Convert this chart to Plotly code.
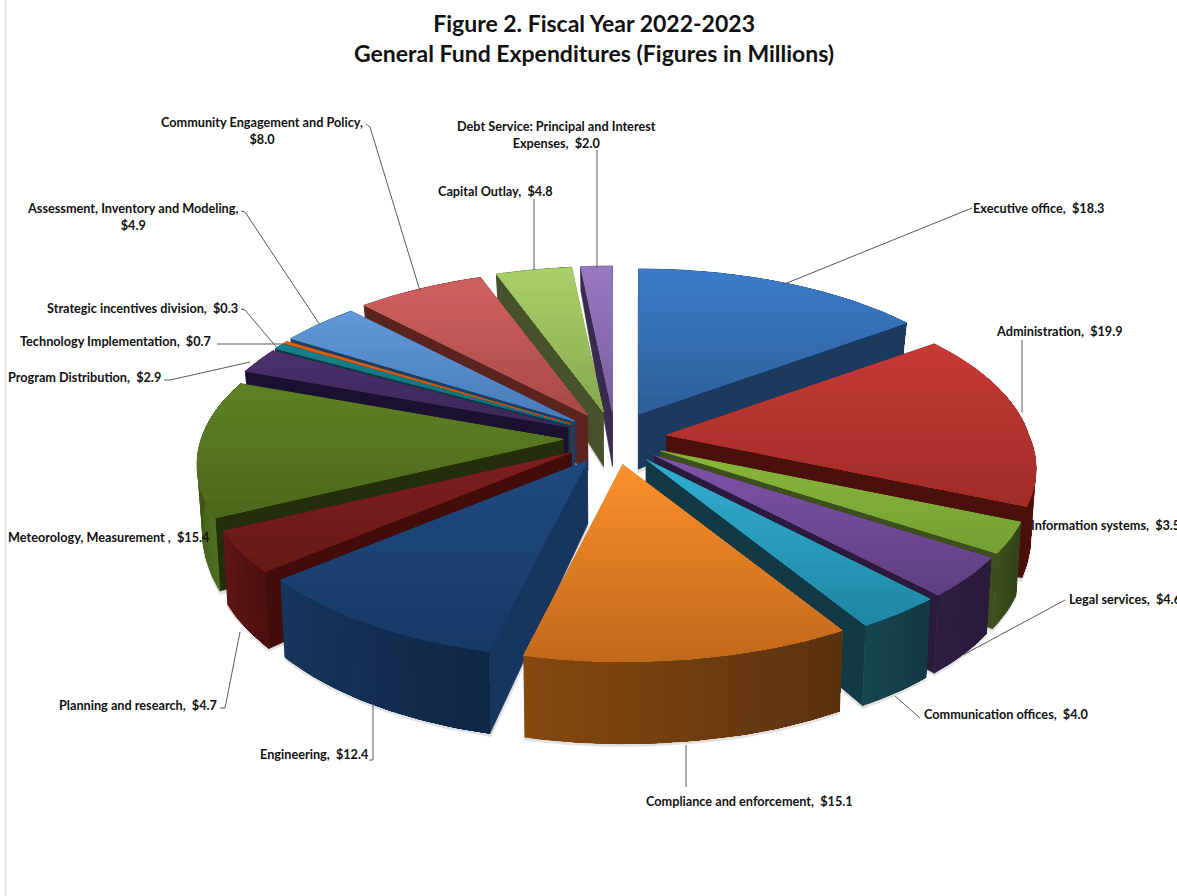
import numpy as np
import plotly.graph_objects as go

# ---- data ----
names = ["Executive office", "Administration", "Information systems", "Legal services",
         "Communication offices", "Compliance and enforcement", "Engineering",
         "Planning and research", "Meteorology, Measurement ", "Program Distribution",
         "Technology Implementation", "Strategic incentives division",
         "Assessment, Inventory and Modeling", "Community Engagement and Policy",
         "Capital Outlay", "Debt Service: Principal and Interest Expenses"]
values = [18.3, 19.9, 3.5, 4.6, 4.0, 15.1, 12.4, 4.7, 15.4, 2.9, 0.7, 0.3, 4.9, 8.0, 4.8, 2.0]

# ---- styles: top light, top dark, radial wall, outer wall left, outer wall right ----
styles = [
    ("#3c7bc8", "#2e5f99", "#1c3a5e", "#1f4068", "#1c3a5e"),
    ("#c63a36", "#a02c28", "#4a100c", "#6a1512", "#4a100c"),
    ("#8ab63e", "#74a034", "#3d4f1c", "#3d4f1c", "#334417"),
    ("#7f53a8", "#5f3f80", "#2a1a3c", "#2e1d42", "#2a1a3c"),
    ("#31adcf", "#1f87a4", "#123a46", "#174650", "#123a46"),
    ("#fa8f2a", "#c2691c", "#8a5016", "#85490f", "#5a3210"),
    ("#1f4b80", "#173a66", "#17365f", "#17365c", "#0f2746"),
    ("#7e1f1e", "#671a18", "#420c0a", "#5f1614", "#4d100e"),
    ("#5f8125", "#4d681c", "#232f0a", "#4f6e1f", "#2c3a0e"),
    ("#4c306c", "#3b2858", "#1b1030", "#1b1030", "#1b1030"),
    ("#17808f", "#146c78", "#0c3c44", "#0c3c44", "#0c3c44"),
    ("#e2600c", "#c8540a", "#7a3408", "#7a3408", "#7a3408"),
    ("#6098d8", "#4a7cb8", "#1f3f62", "#1f3f62", "#1f3f62"),
    ("#d06060", "#a84a48", "#5a2420", "#5a2420", "#5a2420"),
    ("#aad068", "#87a850", "#46532a", "#46532a", "#46532a"),
    ("#9779be", "#7a5fa0", "#3a2a50", "#3a2a50", "#3a2a50"),
]

# label placement: (x, y, xanchor), in page pixels
label_pos = [(971, 208, "left"), (994, 331, "left"), (1029, 525, "left"), (1067, 599, "left"),
             (922, 714, "left"), (644, 801, "left"), (371, 754, "right"), (219, 705, "right"),
             (6, 537, "left"), (6, 377, "left"), (18, 341, "left"), (45, 308, "left"),
             (132, 216, "center"), (262, 130, "center"), (495, 191, "center"), (556, 134, "center")]
line_break_after_name = {12, 13}
leaders = [[(782, 285), (972, 208)], [(1022, 412), (1022, 340)], None,
           [(963, 655), (1065, 600)], [(895, 696), (920, 718)], [(686, 745), (686, 787)],
           [(373, 704), (373, 760), (369, 760)], [(240, 632), (225, 708), (220, 708)], None,
           [(250, 362), (170, 380), (164, 380)], [(285, 344), (217, 344)],
           [(278, 349), (245, 310), (241, 309)], [(320, 325), (245, 212), (241, 211)],
           [(420, 291), (370, 127), (366, 124)], [(534, 270), (534, 199)], [(597, 268), (597, 150)]]

# ---- projection of the exploded disc ----
CX, CY, EX, EY = 615.0, 438.0, 52.0, 27.0


def rx(z, s):
    return 362 + 55 * z + 20 * np.maximum(z, 0) * (s > 0)


def ry(z):
    return 171 + 26 * z


def thick(y):
    return np.interp(y, [270, 325, 413, 515, 650], [25, 33, 55, 73, 82])


def lower(x, y):
    x, y = np.asarray(x, float), np.asarray(y, float)
    return x - (x - 620) * 0.012, y + thick(y)


def hex2rgb(c):
    return np.array([int(c[i:i + 2], 16) for i in (1, 3, 5)], float)


def mix(a, b, t):
    v = hex2rgb(a) * (1 - t) + hex2rgb(b) * t
    return "rgb(%d,%d,%d)" % tuple(v.round())


def clip_below(pts, y0):
    out = []
    for i in range(len(pts)):
        p, q = pts[i], pts[(i + 1) % len(pts)]
        if p[1] >= y0:
            out.append(p)
        if (p[1] >= y0) != (q[1] >= y0):
            t = (y0 - p[1]) / (q[1] - p[1])
            out.append((p[0] + t * (q[0] - p[0]), y0))
    return out


fig = go.Figure()


def poly(xs, ys, color, lw=0.6):
    xs, ys = list(xs), list(ys)
    fig.add_trace(go.Scatter(x=xs + xs[:1], y=ys + ys[:1], mode="lines", fill="toself",
                             fillcolor=color, line=dict(color=color, width=lw),
                             hoverinfo="skip", showlegend=False))


total = sum(values)
cum = np.concatenate([[0], np.cumsum(values)]) / total * 2 * np.pi
slices = []
for i in range(len(values)):
    a0, a1 = cum[i], cum[i + 1]
    mid = (a0 + a1) / 2
    ax, ay = CX + EX * np.sin(mid), CY - EY * np.cos(mid)
    th = np.linspace(a0, a1, max(4, int((a1 - a0) * 70)))
    z = -np.cos(th)
    s_th = np.sin(th)
    xs, ys = ax + s_th * rx(z, s_th), ay + z * ry(z)
    slices.append(dict(i=i, mid=mid, ax=ax, ay=ay, xs=xs, ys=ys))

order = sorted(slices, key=lambda s: -np.cos(s["mid"]))

# soft shadows under the slices
for s in slices:
    bx, by = lower(np.r_[s["ax"], s["xs"]], np.r_[s["ay"], s["ys"]])
    mx, my = bx.mean(), by.mean()
    poly(mx + (bx - mx) * 1.012, my + (by - my) * 1.012 + 3, "rgba(110,110,110,0.2)", 0)

for s in order:
    c_light, c_dark, c_rad, c_o0, c_o1 = styles[s["i"]]
    ax, ay, xs, ys = s["ax"], s["ay"], s["xs"], s["ys"]
    bxs, bys = lower(xs, ys)
    bax, bay = lower(ax, ay)
    # radial walls
    poly([ax, xs[0], bxs[0], bax], [ay, ys[0], bys[0], bay], c_rad)
    poly([ax, xs[-1], bxs[-1], bax], [ay, ys[-1], bys[-1], bay], c_rad)
    # outer wall: shaded along the arc, each step painted over the rest so no seams appear
    n_steps = max(1, min(36, len(xs) - 2))
    first_right = xs[0] > xs[-1]
    idx = np.arange(len(xs)) if not first_right else np.arange(len(xs))[::-1]
    for k in range(n_steps):
        start = int(k * (len(xs) - 1) / n_steps)
        part = idx[start:]
        t = k / max(n_steps - 1, 1)
        poly(np.r_[xs[part], bxs[part][::-1]], np.r_[ys[part], bys[part][::-1]],
             mix(c_o0, c_o1, t), 0.6 if k == 0 else 0)
    # top face: vertical gradient
    pts = [(ax, ay)] + list(zip(xs, ys))
    ymin, ymax = min(p[1] for p in pts), max(p[1] for p in pts)
    n = max(2, int((ymax - ymin) / 6))
    for k in range(n):
        y0 = ymin + (ymax - ymin) * k / n
        cp = clip_below(pts, y0) if k else pts
        if len(cp) >= 3:
            poly([p[0] for p in cp], [p[1] for p in cp], mix(c_light, c_dark, k / max(n - 1, 1)),
                 0.6 if k == 0 else 0)

# leader lines
for seg in leaders:
    if seg:
        fig.add_trace(go.Scatter(x=[p[0] for p in seg], y=[p[1] for p in seg], mode="lines",
                                 line=dict(color="#5a5a5a", width=1),
                                 hoverinfo="skip", showlegend=False))

FONT = "Lato, Carlito, Calibri, sans-serif"
annotations = []
for i, (n, v) in enumerate(zip(names, values)):
    val = f"${v:.1f}"
    if i in line_break_after_name:
        text = f"<b>{n},<br>{val}</b>"
    elif i == 15:
        text = f"<b>Debt Service: Principal and Interest<br>Expenses,\u00a0 {val}</b>"
    else:
        text = f"<b>{n},\u00a0 {val}</b>"
    x, y, anchor = label_pos[i]
    annotations.append(dict(x=x, y=y, xref="x", yref="y", text=text, showarrow=False,
                            xanchor=anchor, yanchor="middle", align="center",
                            font=dict(family=FONT, size=12.7, color="#111111")))
annotations.append(dict(x=594, y=38, xref="x", yref="y", showarrow=False, align="center",
                        xanchor="center", yanchor="middle",
                        text="<b>Figure 2. Fiscal Year 2022-2023<br>General Fund Expenditures (Figures in Millions)</b>",
                        font=dict(family=FONT, size=23, color="#111111")))

fig.update_layout(
    width=1177, height=896, margin=dict(l=0, r=0, t=0, b=0),
    paper_bgcolor="white", plot_bgcolor="white", showlegend=False,
    xaxis=dict(range=[0, 1177], visible=False, fixedrange=True),
    yaxis=dict(range=[896, 0], visible=False, fixedrange=True),
    annotations=annotations,
    shapes=[dict(type="line", x0=5.5, x1=5.5, y0=0, y1=896, xref="x", yref="y",
                 line=dict(color="#e6e6e6", width=2), layer="below")],
)
fig.write_html("out.html", config={"displayModeBar": False},
               post_script="document.body.style.margin='0';document.body.style.overflow='hidden';")
